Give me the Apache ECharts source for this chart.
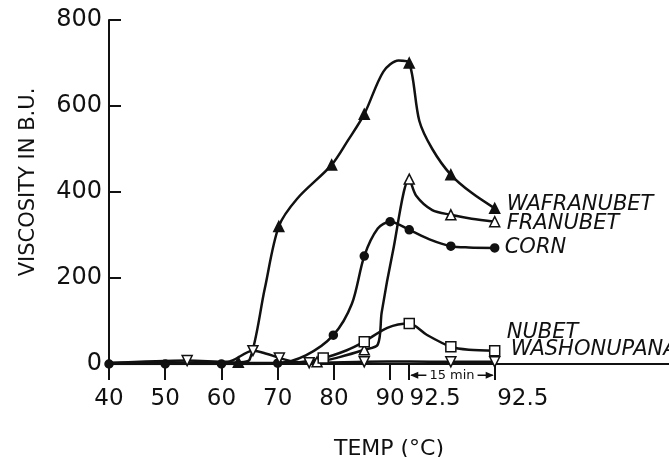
<!DOCTYPE html>
<html>
<head>
<meta charset="utf-8">
<script src="https://cdn.jsdelivr.net/npm/echarts@6/dist/echarts.min.js"></script>
<style>
  html, body { margin: 0; background: #fff; }
  #chart { width: 669px; height: 457px; }
</style>
</head>
<body>
<div id="chart"></div>
<script>
// x 位置: 40-90 按温度, 92.5 之后是保温段 (15 min)
const tickPos = [40, 50, 60, 70, 80, 90, 93.4, 108.6]
const labelPos = [40, 50, 60, 70, 80, 90, 98, 113.6]
const labelText = ['40', '50', '60', '70', '80', '90', '92.5', '92.5']
const holdStart = 93.4
const holdEnd = 108.6

// 带标记的数据点
const wafranubetMarks = [[63, 4], [70.2, 320], [79.6, 463], [85.4, 581], [93.4, 700], [100.8, 440], [108.6, 362]]
const franubetMarks = [[77, 5], [85.4, 33], [93.4, 430], [100.8, 347], [108.6, 331]]
const cornMarks = [[40, 0], [50, 0], [60, 0], [70, 2], [79.9, 67], [85.4, 251], [90, 331], [93.4, 312], [100.8, 274], [108.6, 270]]
const nubetMarks = [[78.1, 14], [85.4, 52], [93.4, 94], [100.8, 40], [108.6, 31]]
const washonupanaMarks = [[53.9, 8], [65.6, 31], [70.3, 14], [75.6, 3], [85.4, 5], [100.8, 5], [108.6, 5]]

// 曲线上读出的中间点 (无标记)
const wafranubetCurve = [[40, 3], [60, 3], [65, 10], [67.7, 175], [73.5, 385], [82.5, 520], [88.8, 680], [91.5, 706], [95.2, 565], [97.5, 500], [104.5, 398]]
const franubetCurve = [[40, 2], [70, 3], [81, 16], [87.8, 45], [88.5, 120], [90.5, 262], [94.6, 392], [97.5, 358], [104.5, 338]]
const cornCurve = [[75, 20], [83.2, 140], [87.8, 315], [97, 290], [104, 271]]
const nubetCurve = [[40, 1], [72, 2], [82.3, 32], [89.5, 84], [96.5, 68], [104, 33]]
const washonupanaCurve = [[40, 2], [61, 5], [68, 24], [73, 5], [93.4, 6]]

const FONT = 'DejaVu Sans'
const INK = '#111'

function buildData(marks, curve, shape) {
  const pts = marks.map(p => ({ p, mark: true })).concat(curve.map(p => ({ p, mark: false })))
  pts.sort((a, b) => a.p[0] - b.p[0])
  return pts.map(d => ({ value: d.p, symbol: d.mark ? shape : 'none' }))
}

function makeSeries(name, marks, curve, shape, filled, offset, rotate) {
  return {
    name: name,
    type: 'line',
    data: buildData(marks, curve, shape),
    smooth: 0.3,
    symbolSize: shape === 'circle' ? 8 : 10,
    symbolRotate: rotate || 0,
    showAllSymbol: true,
    lineStyle: { color: INK, width: 2.5 },
    itemStyle: { color: filled ? INK : '#fff', borderColor: INK, borderWidth: 1.5 },
    emphasis: { disabled: true },
    endLabel: {
      show: true,
      formatter: name,
      distance: 12,
      offset: offset,
      color: INK,
      fontFamily: FONT,
      fontStyle: 'italic',
      fontSize: 21
    }
  }
}

const chart = echarts.init(document.getElementById('chart'))

chart.setOption({
  animation: false,
  backgroundColor: '#fff',
  grid: { left: 109, right: 0, top: 20, bottom: 93, containLabel: false, outerBoundsMode: 'none' },
  xAxis: {
    type: 'value',
    min: 40,
    max: 139.6,
    name: 'TEMP (°C)',
    nameLocation: 'middle',
    nameGap: 74,
    nameTextStyle: { color: INK, fontFamily: FONT, fontSize: 22 },
    axisLine: { lineStyle: { color: INK, width: 2 } },
    axisTick: { customValues: tickPos, length: 16, lineStyle: { color: INK, width: 2 } },
    axisLabel: {
      customValues: labelPos,
      formatter: v => { const i = labelPos.indexOf(v); return i < 0 ? '' : labelText[i] },
      color: INK,
      fontFamily: FONT,
      fontSize: 23,
      margin: 24
    },
    splitLine: { show: false }
  },
  yAxis: {
    type: 'value',
    min: 0,
    max: 800,
    interval: 200,
    name: 'VISCOSITY IN B.U.',
    nameLocation: 'middle',
    nameGap: 70,
    nameTextStyle: { color: INK, fontFamily: FONT, fontSize: 21, padding: [0, 0, 0, 20] },
    axisLine: { show: true, lineStyle: { color: INK, width: 2 } },
    axisTick: { show: true, inside: true, length: 12, lineStyle: { color: INK, width: 2 } },
    axisLabel: { color: INK, fontFamily: FONT, fontSize: 24, margin: 7 },
    splitLine: { show: false }
  },
  series: [
    makeSeries('WAFRANUBET', wafranubetMarks, wafranubetCurve, 'triangle', true, [0, -4]),
    makeSeries('FRANUBET', franubetMarks, franubetCurve, 'triangle', false, [0, 2]),
    makeSeries('CORN', cornMarks, cornCurve, 'circle', true, [-2, 0]),
    makeSeries('NUBET', nubetMarks, nubetCurve, 'rect', false, [0, -18]),
    makeSeries('WASHONUPANA', washonupanaMarks, washonupanaCurve, 'triangle', false, [4, -12], 180)
  ]
})

// "15 min" 保温段箭头, 位置由坐标轴换算
const a = chart.convertToPixel({ gridIndex: 0 }, [holdStart, -26])
const b = chart.convertToPixel({ gridIndex: 0 }, [holdEnd, -26])
const midX = (a[0] + b[0]) / 2
const y = a[1]
chart.setOption({
  graphic: [
    { type: 'line', shape: { x1: a[0] + 2, y1: y, x2: b[0] - 2, y2: y }, style: { stroke: INK, lineWidth: 1.5 } },
    { type: 'polygon', shape: { points: [[a[0] + 1, y], [a[0] + 9, y - 3.5], [a[0] + 9, y + 3.5]] }, style: { fill: INK } },
    { type: 'polygon', shape: { points: [[b[0] - 1, y], [b[0] - 9, y - 3.5], [b[0] - 9, y + 3.5]] }, style: { fill: INK } },
    {
      type: 'text',
      x: midX,
      y: y,
      style: {
        text: '15 min',
        align: 'center',
        verticalAlign: 'middle',
        fill: INK,
        font: '13px "DejaVu Sans"',
        backgroundColor: '#fff',
        padding: [0, 3]
      }
    }
  ]
})
</script>
</body>
</html>
